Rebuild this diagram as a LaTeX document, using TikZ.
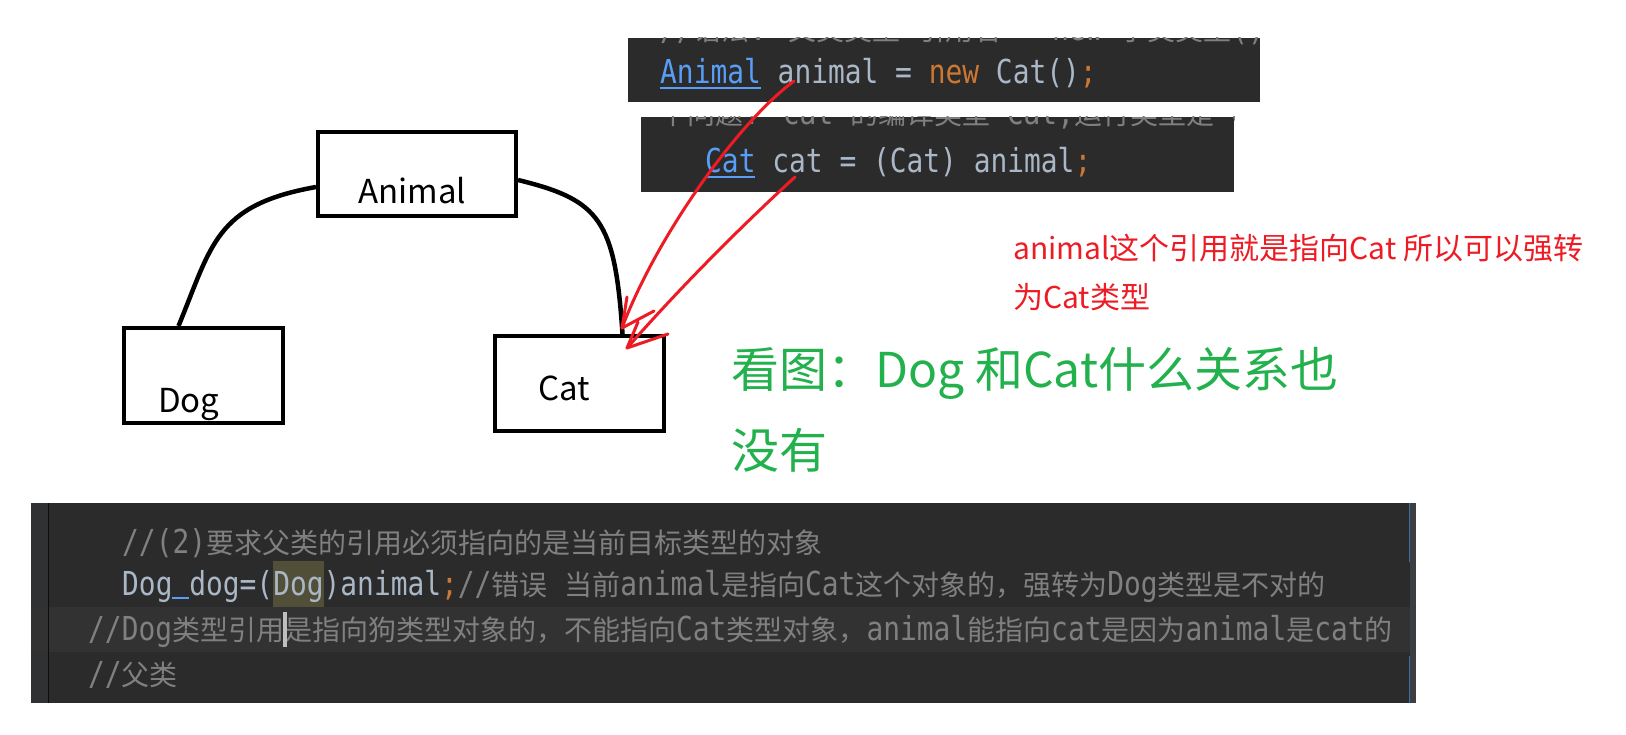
\documentclass[tikz,border=0pt]{standalone}
\usepackage{fontspec}
\usepackage{xcolor}
\usetikzlibrary{positioning}
\newfontfamily\zhfont{Noto Sans CJK SC}
\newfontfamily\codefont[FakeStretch=0.845]{DejaVu Sans Mono}
\newcommand{\zc}[1]{{\zhfont\fontsize{28}{28}\selectfont #1}}
\definecolor{codebg}{HTML}{2B2B2B}
\definecolor{bandbg}{HTML}{323232}
\definecolor{gutterbg}{HTML}{303132}
\definecolor{stripbg}{HTML}{3C3F41}
\definecolor{cmt}{HTML}{808080}
\definecolor{ident}{HTML}{A9B7C6}
\definecolor{kwd}{HTML}{CC7832}
\definecolor{clsblue}{HTML}{589DF6}
\definecolor{hlbox}{HTML}{524F38}
\definecolor{inkred}{HTML}{ED1C24}
\definecolor{inkgreen}{HTML}{22B14C}
\tikzset{
  diabox/.style={draw=black, line width=4pt, inner sep=0pt},
  boxtext/.style={font=\zhfont\fontsize{33}{33}\selectfont, anchor=base west, inner sep=0pt},
  codeline/.style={font=\codefont\fontsize{33}{33}\selectfont, anchor=base west, inner sep=0pt, text=ident},
  redpen/.style={draw=inkred, line width=3pt, line cap=round, line join=round},
  note/.style={font=\zhfont\fontsize{30}{30}\selectfont, text=inkred, anchor=base west, inner sep=0pt},
  bignote/.style={font=\zhfont\fontsize{48}{48}\selectfont, text=inkgreen, anchor=base west, inner sep=0pt},
}

\begin{document}
\begin{tikzpicture}[x=1pt,y=-1pt]
  \useasboundingbox (0,0) rectangle (1626,735);

  % class diagram
  \node[diabox, minimum width=198pt, minimum height=84pt] (animal) at (417,174) {};
  \node[diabox, minimum width=159pt, minimum height=95pt] (dog) at (203.5,375.5) {};
  \node[diabox, minimum width=169pt, minimum height=95pt] (cat) at (579.5,383.5) {};
  \node[boxtext] (animal-t) at (358,204) {Animal};
  \node[boxtext] (dog-t) at (158,412) {Dog};
  \node[boxtext] (cat-t) at (538,401) {Cat};
  \draw[line width=4.5pt] ([yshift=-13pt]animal.west) .. controls (215,205) and (212,245) .. ([xshift=-25pt]dog.north);
  \draw[line width=4.5pt] ([yshift=-6pt]animal.east) .. controls (600,200) and (615,220) .. ([xshift=43pt]cat.north);

  % upper code snippets
  \fill[codebg] (628,38) rectangle (1260,102);
  \fill[codebg] (641,117) rectangle (1234,192);
  \begin{scope}
    \clip (628,38) rectangle (1260,102);
    \node[codeline, text=cmt] (syntax) at (660,41) {//\zc{语法}: \zc{父类类型} \zc{引用名} = new \zc{子类类型}();};
  \end{scope}
  \begin{scope}
    \clip (641,117) rectangle (1234,192);
    \node[codeline, text=cmt] (question) at (570,125) {//\zc{问一个问题}? cat \zc{的编译类型} Cat,\zc{运行类型是} Cat};
  \end{scope}
  \node[codeline] (upcast) at (660,84) {\textcolor{clsblue}{Animal} animal = \textcolor{kwd}{new} Cat()\textcolor{kwd}{;}};
  \node[codeline] (downcast) at (705,173) {\textcolor{clsblue}{Cat} cat = (Cat) animal\textcolor{kwd}{;}};
  \draw[clsblue, line width=1.5pt] (660,88) -- (761,88);
  \draw[clsblue, line width=1.5pt] (705,177) -- (755,177);

  % lower code snippet
  \fill[codebg] (31,503) rectangle (1410,703);
  \fill[gutterbg] (31,503) rectangle (48,703);
  \fill[bandbg] (31,607) rectangle (1410,652);
  \draw[black!70!codebg, line width=1pt] (48,503) -- (48,703);
  \fill[stripbg] (1410,503) rectangle (1416,703);
  \draw[clsblue!70!black, line width=1pt] (1409.5,503) -- (1409.5,562) (1409.5,656) -- (1409.5,703);
  \fill[hlbox] (273,561) rectangle (324,607);
  \draw[clsblue, line width=1.5pt] (172,598) -- (189,598);
  \node[codeline, text=cmt] (rule) at (122,553) {//(2)\zc{要求父类的引用必须指向的是当前目标类型的对象}};
  \node[codeline] (wrongcast) at (122,595) {Dog dog=(Dog)animal\textcolor{kwd}{;}\textcolor{cmt}{//\zc{错误} \zc{当前}animal\zc{是指向}Cat\zc{这个对象的，强转为}Dog\zc{类型是不对的}}};
  \node[codeline, text=cmt] (reason) at (88,640) {//Dog\zc{类型引用是指向狗类型对象的，不能指向}Cat\zc{类型对象，}animal\zc{能指向}cat\zc{是因为}animal\zc{是}cat\zc{的}};
  \node[codeline, text=cmt] (parent) at (88,685) {//\zc{父类}};
  \fill[black!25] (283,612) rectangle (286.5,647);

  % red pen marks
  \coordinate (fromA) at (794,81);
  \coordinate (fromB) at (795,177);
  \coordinate (tipA) at (622,328);
  \coordinate (tipB) at (627,348);
  \draw[redpen] (fromA) .. controls (735,125) and (655,240) .. (tipA);
  \draw[redpen] (fromB) .. controls (770,200) and (700,265) .. (tipB);
  \draw[redpen] (627,297) -- (tipA) -- (654,311);
  \draw[redpen] (638,322) -- (tipB) -- (668,334);

  % annotations
  \node[note] (note1) at (1013,260) {animal这个引用就是指向Cat 所以可以强转};
  \node[note] (note2) at (1013,309) {为Cat类型};
  \node[bignote] (look1) at (731,388) {看图：Dog 和Cat什么关系也};
  \node[bignote] (look2) at (731,468) {没有};
\end{tikzpicture}
\end{document}
